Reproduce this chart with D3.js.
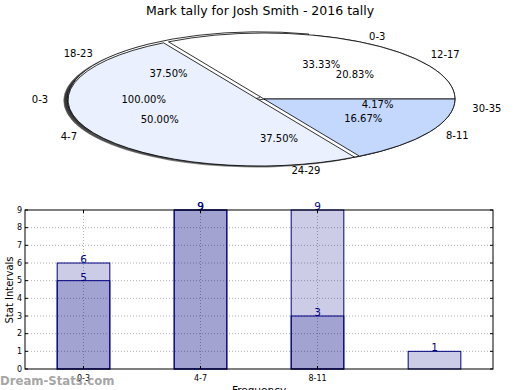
<!DOCTYPE html>
<html>
<head>
<meta charset="utf-8">
<script src="https://cdn.jsdelivr.net/npm/d3@7"></script>
<style>
  body { margin: 0; background: #fff; }
  svg { font-family: "DejaVu Sans", sans-serif; }
</style>
</head>
<body>
<svg id="chart" width="520" height="390"></svg>
<script>
// ---- data ----
var title = "Mark tally for Josh Smith - 2016 tally";

// three pies drawn on top of each other
var pieLabels1 = ["0-3"];
var pieValues1 = [24];
var pieLabels2 = ["0-3", "4-7", "8-11"];
var pieValues2 = [8, 12, 4];
var pieLabels3 = ["12-17", "18-23", "24-29", "30-35"];
var pieValues3 = [5, 9, 9, 1];

// bar chart
var barTicks = ["0-3", "4-7", "8-11"];
var barSeriesA = [6, 9, 9, 1];
var barSeriesB = [5, 9, 3, 0];
var yTicks = [0, 1, 2, 3, 4, 5, 6, 7, 8, 9];

var svg = d3.select("#chart");

svg.append("text")
  .attr("x", 260).attr("y", 15)
  .attr("text-anchor", "middle")
  .attr("font-size", 12.5)
  .text(title);

// ---- pies ----
var cx = 264, cy = 99, rx = 191, ry = 66;
var explode = 0.03;
var arc = d3.arc().innerRadius(0).outerRadius(rx);
var pie = d3.pie().sort(null)
  .startAngle(Math.PI / 2)
  .endAngle(Math.PI / 2 - 2 * Math.PI);

var shadowLayer = svg.append("g");
var wedgeLayer = svg.append("g");
var textLayer = svg.append("g");

function drawPie(labels, values, colors, explodeIdx) {
  var arcs = pie(values);
  var total = d3.sum(values);
  var g = wedgeLayer.append("g");
  arcs.forEach(function(a, i) {
    var mid = (a.startAngle + a.endAngle) / 2;
    var e = i === explodeIdx ? explode : 0;
    var ox = Math.sin(mid) * e * rx, oy = -Math.cos(mid) * e * ry;

    shadowLayer.append("path")
      .attr("d", arc(a))
      .attr("transform", "translate(" + (cx + ox - 4) + "," + (cy + oy + 1.5) + ") scale(1," + (ry / rx) + ")")
      .attr("fill", "#222")
      .attr("opacity", 0.55);

    g.append("path")
      .attr("d", arc(a))
      .attr("transform", "translate(" + (cx + ox) + "," + (cy + oy) + ") scale(1," + (ry / rx) + ")")
      .attr("fill", colors[i])
      .attr("stroke", "#000")
      .attr("stroke-width", 0.8)
      .attr("vector-effect", "non-scaling-stroke");

    var s = Math.sin(mid), c = -Math.cos(mid);
    textLayer.append("text")
      .attr("x", cx + ox + s * 1.1 * rx)
      .attr("y", cy + oy + c * 1.1 * ry)
      .attr("dy", "0.35em")
      .attr("text-anchor", s > 0.001 ? "start" : (s < -0.001 ? "end" : "middle"))
      .attr("font-size", 10)
      .text(labels[i]);
    textLayer.append("text")
      .attr("x", cx + ox + s * 0.6 * rx)
      .attr("y", cy + oy + c * 0.6 * ry)
      .attr("dy", "0.35em")
      .attr("text-anchor", "middle")
      .attr("font-size", 10)
      .text((values[i] / total * 100).toFixed(2) + "%");
  });
}

drawPie(pieLabels1, pieValues1, ["#ffffff"], 0);
drawPie(pieLabels3, pieValues3, ["#ffffff", "#ffffff", "#ffffff", "#ffffff"], 1);
drawPie(pieLabels2, pieValues2, ["#ffffff", "#eaf0fd", "#c4d8fe"], 1);

// ---- bars ----
var x = d3.scaleBand()
  .domain(d3.range(barSeriesA.length))
  .range([25, 493])
  .padding(0);
var y = d3.scaleLinear().domain([0, 9]).range([369, 210]);
var bw = x.bandwidth() * 0.45;

var grid = svg.append("g")
  .attr("stroke", "#b0b0b0")
  .attr("stroke-dasharray", "1,2");
yTicks.slice(1, -1).forEach(function(t) {
  grid.append("line").attr("x1", 25).attr("x2", 493).attr("y1", y(t)).attr("y2", y(t));
});
barTicks.forEach(function(t, i) {
  var xc = x(i) + x.bandwidth() / 2;
  grid.append("line").attr("x1", xc).attr("x2", xc).attr("y1", 210).attr("y2", 369);
});

[barSeriesA, barSeriesB].forEach(function(series) {
  svg.append("g").selectAll("rect")
    .data(series)
    .enter().append("rect")
      .attr("x", function(d, i) { return x(i) + (x.bandwidth() - bw) / 2; })
      .attr("y", function(d) { return y(d); })
      .attr("width", bw)
      .attr("height", function(d) { return y(0) - y(d); })
      .attr("fill", "#000080")
      .attr("fill-opacity", 0.2)
      .attr("stroke", "#000080")
      .attr("stroke-width", 1)
      .style("display", function(d) { return d > 0 ? null : "none"; });
});

[barSeriesA, barSeriesB].forEach(function(series) {
  series.forEach(function(d, i) {
    if (d <= 0) return;
    svg.append("text")
      .attr("x", x(i) + x.bandwidth() / 2)
      .attr("y", y(d))
      .attr("text-anchor", "middle")
      .attr("font-size", 10.5)
      .attr("fill", "#000080")
      .text(d);
  });
});

// axes frame and ticks
svg.append("rect")
  .attr("x", 25).attr("y", 210)
  .attr("width", 468).attr("height", 159)
  .attr("fill", "none").attr("stroke", "#000").attr("stroke-width", 1);

var ax = svg.append("g").attr("stroke", "#000");
yTicks.forEach(function(t) {
  ax.append("line").attr("x1", 25).attr("x2", 28).attr("y1", y(t)).attr("y2", y(t));
  ax.append("line").attr("x1", 490).attr("x2", 493).attr("y1", y(t)).attr("y2", y(t));
});
barTicks.forEach(function(t, i) {
  var xc = x(i) + x.bandwidth() / 2;
  ax.append("line").attr("x1", xc).attr("x2", xc).attr("y1", 369).attr("y2", 366);
  ax.append("line").attr("x1", xc).attr("x2", xc).attr("y1", 210).attr("y2", 213);
});

svg.append("g").selectAll("text")
  .data(yTicks)
  .enter().append("text")
    .attr("x", 22)
    .attr("y", function(d) { return y(d); })
    .attr("dy", "0.35em")
    .attr("text-anchor", "end")
    .attr("font-size", 8)
    .text(function(d) { return d; });

svg.append("g").selectAll("text")
  .data(barTicks)
  .enter().append("text")
    .attr("x", function(d, i) { return x(i) + x.bandwidth() / 2; })
    .attr("y", 381)
    .attr("text-anchor", "middle")
    .attr("font-size", 8)
    .text(function(d) { return d; });

svg.append("text")
  .attr("transform", "translate(13,290) rotate(-90)")
  .attr("text-anchor", "middle")
  .attr("font-size", 10)
  .text("Stat Intervals");

svg.append("text")
  .attr("x", 259).attr("y", 393.5)
  .attr("text-anchor", "middle")
  .attr("font-size", 10.5)
  .text("Frequency");

// watermark
svg.append("text")
  .attr("x", 0).attr("y", 385)
  .attr("font-family", "'DejaVu Sans Condensed', 'DejaVu Sans', sans-serif")
  .attr("font-size", 13)
  .attr("font-weight", "bold")
  .attr("fill", "#9a9a9a")
  .attr("fill-opacity", 0.9)
  .text("Dream-Stats.com");
</script>
</body>
</html>
